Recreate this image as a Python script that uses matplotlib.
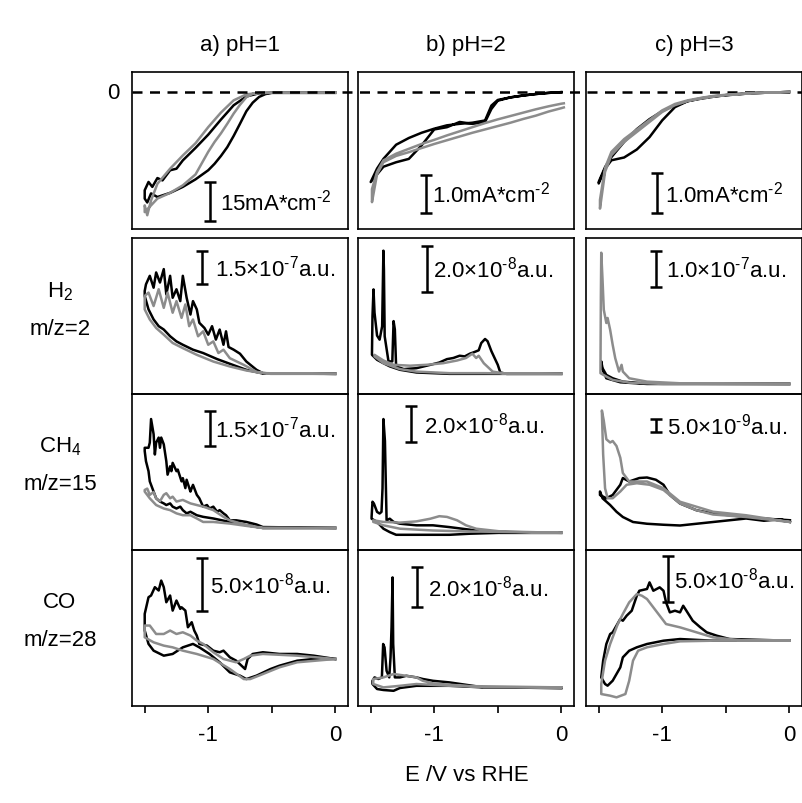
import matplotlib
matplotlib.use('Agg')
import matplotlib.pyplot as plt
import matplotlib.transforms as mtransforms

plt.rcParams['font.family'] = ['Liberation Sans', 'DejaVu Sans']
plt.rcParams['mathtext.fontset'] = 'custom'
plt.rcParams['mathtext.rm'] = 'Liberation Sans'
plt.rcParams['mathtext.it'] = 'Liberation Sans:italic'
plt.rcParams['mathtext.bf'] = 'Liberation Sans:bold'

BLACK = '#000000'
GRAY = '#8c8c8c'

col_titles = ['a) pH=1', 'b) pH=2', 'c) pH=3']
row_species = ['H$_2$', 'CH$_4$', 'CO']
row_mz = ['m/z=2', 'm/z=15', 'm/z=28']
x_label = 'E /V vs RHE'
x_ticks = [-1.5, -1.0, -0.5, 0.0]
x_ticklabels = ['', '-1', '', '0']

# ---------------- Row 1: current density (mA cm^-2) ----------------
cv1_black_x = [0, -0.5, -0.55, -0.6, -0.65, -0.7, -0.75, -0.8, -0.85, -0.9, -0.95, -1.0, -1.1, -1.2, -1.3, -1.4, -1.45, -1.48, -1.5,
               -1.5, -1.47, -1.44, -1.4, -1.36, -1.3, -1.25, -1.2, -1.1, -1.0, -0.9, -0.8, -0.7, -0.6, -0.5, 0]
cv1_black_y = [-0.3, -0.3, -0.8, -1.9, -4.1, -7.4, -12.2, -16.9, -21.2, -24.6, -27.6, -30.1, -33.6, -36.5, -38.8, -40.4, -39.0, -42.5, -41.0,
               -37.8, -34.6, -36.5, -33.1, -34.0, -30.1, -29.5, -26.3, -21.5, -16.4, -10.6, -5.1, -1.7, -0.5, -0.3, -0.3]
cv1_gray_x = [0, -0.5, -0.6, -0.65, -0.7, -0.75, -0.8, -0.85, -0.9, -0.95, -1.0, -1.1, -1.2, -1.3, -1.4, -1.45, -1.5,
              -1.5, -1.48, -1.45, -1.4, -1.3, -1.2, -1.1, -1.0, -0.9, -0.8, -0.7, -0.6, 0]
cv1_gray_y = [-0.3, -0.3, -0.4, -0.7, -2.0, -4.9, -8.3, -12.2, -15.9, -19.2, -23.0, -31.7, -35.9, -38.8, -41.0, -43.6, -46.2,
              -43.6, -47.4, -41.7, -35.3, -29.5, -24.4, -19.7, -13.5, -7.9, -3.2, -0.9, -0.3, -0.3]

cv2_black_x = [0, -0.1, -0.2, -0.3, -0.4, -0.5, -0.55, -0.6, -0.7, -0.8, -0.9, -1.0, -1.1, -1.2, -1.3, -1.4, -1.45, -1.5,
               -1.5, -1.4, -1.3, -1.2, -1.1, -1.0, -0.9, -0.8, -0.7, -0.6, -0.55, -0.5, -0.4, -0.3, -0.2, -0.1, 0]
cv2_black_y = [0, -0.02, -0.05, -0.09, -0.14, -0.21, -0.36, -0.76, -0.82, -0.85, -0.89, -0.98, -1.09, -1.23, -1.41, -1.79, -2.05, -2.41,
               -2.41, -2.0, -1.88, -1.79, -1.43, -1.0, -0.94, -0.80, -0.85, -0.80, -0.45, -0.23, -0.14, -0.09, -0.05, -0.02, 0]
cv2_gray_x = [0.02, 0, -0.1, -0.2, -0.3, -0.4, -0.5, -0.6, -0.7, -0.8, -0.9, -1.0, -1.1, -1.2, -1.3, -1.4, -1.45, -1.49,
              -1.49, -1.45, -1.4, -1.3, -1.2, -1.1, -1.0, -0.9, -0.8, -0.7, -0.6, -0.5, -0.4, -0.3, -0.2, -0.1, 0, 0.02]
cv2_gray_y = [-0.41, -0.43, -0.52, -0.63, -0.72, -0.82, -0.91, -1.0, -1.09, -1.19, -1.29, -1.39, -1.5, -1.61, -1.71, -1.88, -2.2, -2.95,
              -2.6, -2.14, -1.83, -1.65, -1.52, -1.39, -1.28, -1.16, -1.05, -0.94, -0.83, -0.73, -0.64, -0.55, -0.46, -0.38, -0.31, -0.3]

cv3_black_x = [0, -0.1, -0.2, -0.3, -0.4, -0.5, -0.6, -0.7, -0.8, -0.9, -1.0, -1.1, -1.2, -1.3, -1.4, -1.45, -1.5,
               -1.5, -1.45, -1.4, -1.3, -1.2, -1.1, -1.0, -0.9, -0.8, -0.7, -0.6, -0.5, -0.4, -0.3, -0.2, -0.1, 0]
cv3_black_y = [0, -0.01, -0.02, -0.03, -0.06, -0.08, -0.12, -0.17, -0.23, -0.38, -0.71, -1.13, -1.44, -1.64, -1.71, -1.92, -2.29,
               -2.25, -1.88, -1.63, -1.25, -0.93, -0.68, -0.48, -0.33, -0.23, -0.16, -0.11, -0.08, -0.05, -0.03, -0.02, -0.01, 0]
cv3_gray_x = [0, -0.1, -0.2, -0.3, -0.4, -0.5, -0.6, -0.7, -0.8, -0.9, -1.0, -1.1, -1.2, -1.3, -1.4, -1.45, -1.49,
              -1.49, -1.45, -1.4, -1.3, -1.2, -1.1, -1.0, -0.9, -0.8, -0.7, -0.6, -0.5, -0.4, -0.3, -0.2, -0.1, 0]
cv3_gray_y = [0, -0.01, -0.02, -0.03, -0.06, -0.08, -0.12, -0.17, -0.23, -0.33, -0.5, -0.75, -1.0, -1.25, -1.58, -2.0, -2.92,
              -2.7, -1.9, -1.5, -1.18, -0.94, -0.7, -0.46, -0.3, -0.21, -0.15, -0.1, -0.07, -0.05, -0.03, -0.02, -0.01, 0]

# ---------------- Row 2: H2, m/z=2 (units of 1e-8 a.u.) ----------------
h2_1_black_x = [0, -0.57, -0.62, -0.70, -0.75, -0.80, -0.84, -0.86, -0.88, -0.91, -0.94, -0.97, -1.0, -1.03, -1.07, -1.09, -1.12, -1.14,
                -1.17, -1.20, -1.22, -1.25, -1.28, -1.30, -1.33, -1.35, -1.38, -1.41, -1.43, -1.46, -1.49, -1.5,
                -1.5, -1.47, -1.43, -1.39, -1.35, -1.30, -1.25, -1.20, -1.12, -1.04, -0.93, -0.83, -0.70, -0.57, 0]
h2_1_black_y = [0, 0.3, 1.8, 5.5, 9.0, 10.8, 12.0, 19.0, 13.0, 19.8, 15.3, 21.3, 17.5, 20.5, 22.8, 28.8, 32.5, 26.5,
                34.0, 43.8, 32.5, 37.8, 34.0, 43.8, 35.5, 46.8, 40.8, 45.3, 38.5, 43.8, 40.0, 37.0,
                34.8, 28.8, 24.3, 21.3, 19.8, 16.8, 14.5, 13.0, 10.8, 9.3, 6.6, 4.5, 1.8, 0.15, 0]
h2_1_gray_x = [0, -0.51, -0.62, -0.72, -0.83, -0.88, -0.92, -0.96, -1.0, -1.04, -1.08, -1.12, -1.15, -1.18, -1.21, -1.25, -1.28, -1.32,
               -1.35, -1.39, -1.43, -1.47, -1.5, -1.5, -1.46, -1.41, -1.35, -1.28, -1.2, -1.09, -0.96, -0.83, -0.7, -0.57, 0]
h2_1_gray_y = [0, 0, 0.9, 4.0, 7.0, 10.8, 9.3, 14.5, 13.0, 19.0, 16.8, 24.3, 21.3, 31.0, 25.0, 32.5, 27.3, 36.3,
               29.5, 37.8, 30.3, 36.3, 34.8, 28.8, 24.3, 20.5, 17.5, 13.8, 11.5, 8.5, 5.5, 3.3, 1.5, 0.3, 0]

h2_2_black_x = [0, -0.43, -0.48, -0.50, -0.55, -0.58, -0.60, -0.63, -0.65, -0.69, -0.72, -0.76, -0.80, -0.85, -0.90, -0.96, -1.03, -1.14,
                -1.24, -1.30, -1.31, -1.32, -1.33, -1.36, -1.39, -1.396, -1.40, -1.41, -1.43, -1.45, -1.47, -1.478, -1.486, -1.49,
                -1.49, -1.45, -1.40, -1.35, -1.27, -1.14, -0.88, -0.61, 0]
h2_2_black_y = [0, 0, 0.06, 0.4, 1.0, 1.44, 1.54, 1.36, 1.04, 0.95, 0.89, 0.77, 0.80, 0.70, 0.65, 0.50, 0.40, 0.25,
                0.21, 0.33, 1.96, 2.33, 0.55, 0.55, 1.66, 4.62, 5.44, 2.1, 1.51, 1.69, 2.7, 3.73, 2.55, 0.92,
                0.84, 0.62, 0.47, 0.33, 0.18, 0.06, 0, 0, 0]
h2_2_gray_x = [0, -0.43, -0.54, -0.61, -0.65, -0.67, -0.70, -0.75, -0.82, -0.93, -1.06, -1.19, -1.32, -1.40, -1.47,
               -1.47, -1.40, -1.27, -1.14, -0.88, -0.61, 0]
h2_2_gray_y = [0, 0, 0.1, 0.47, 0.8, 0.7, 0.89, 0.7, 0.59, 0.47, 0.4, 0.36, 0.4, 0.59, 0.84,
               0.77, 0.47, 0.21, 0.1, 0.03, 0.03, 0]

h2_3_black_x = [0, -1.12, -1.31, -1.39, -1.44, -1.47, -1.48, -1.48, -1.44, -1.33, -1.12, 0]
h2_3_black_y = [0, 0.09, 0.65, 1.59, 2.52, 4.4, 6.3, 4.9, 1.59, 0.47, 0, 0]
h2_3_gray_x = [0, -0.86, -1.12, -1.26, -1.31, -1.32, -1.34, -1.37, -1.39, -1.41, -1.43, -1.44, -1.46, -1.47, -1.48, -1.483, -1.486,
               -1.486, -1.44, -1.39, -1.26, -0.99, 0]
h2_3_gray_y = [0, 0.19, 0.65, 1.59, 3.46, 5.33, 3.46, 7.2, 10.9, 15.1, 18.4, 17.0, 20.7, 29.2, 36.6, 24.5, 3.9,
               3.0, 2.06, 1.12, 0.37, 0, 0]

# ---------------- Row 3: CH4, m/z=15 (units of 1e-8 a.u.) ----------------
ch4_1_black_x = [0, -0.57, -0.62, -0.70, -0.78, -0.83, -0.86, -0.88, -0.91, -0.93, -0.96, -0.99, -1.01, -1.04, -1.07, -1.09, -1.12, -1.13,
                 -1.14, -1.17, -1.18, -1.20, -1.21, -1.24, -1.25, -1.28, -1.29, -1.30, -1.32, -1.33, -1.35, -1.37, -1.38, -1.39, -1.41,
                 -1.42, -1.43, -1.45, -1.46, -1.47, -1.5,
                 -1.5, -1.49, -1.47, -1.46, -1.43, -1.41, -1.38, -1.35, -1.33, -1.30, -1.28, -1.25, -1.22, -1.20, -1.17, -1.14, -1.09,
                 -1.04, -0.96, -0.83, -0.70, -0.57, 0]
ch4_1_black_y = [0, 0.4, 1.5, 2.6, 3.3, 3.3, 5.5, 6.3, 7.7, 7.0, 9.2, 8.4, 9.9, 9.2, 12.8, 14.3, 18.6, 17.2,
                 15.7, 20.8, 17.2, 21.5, 20.1, 25.2, 24.5, 28.1, 24.5, 26.6, 23.0, 28.8, 36.1, 39.0, 34.6, 39.0, 36.8,
                 31.7, 40.5, 47.0, 36.8, 34.6, 34.6,
                 33.2, 28.8, 24.5, 20.1, 15.7, 12.8, 11.4, 10.6, 9.9, 10.6, 9.2, 8.4, 9.2, 7.7, 6.3, 7.0, 5.5,
                 4.8, 4.1, 2.6, 1.2, 0, 0]
ch4_1_gray_x = [0, -0.57, -0.70, -0.83, -0.88, -0.96, -1.04, -1.09, -1.14, -1.20, -1.25, -1.28, -1.30, -1.33, -1.35, -1.38, -1.41, -1.43,
                -1.46, -1.48, -1.5,
                -1.5, -1.46, -1.41, -1.35, -1.30, -1.25, -1.20, -1.14, -1.09, -1.04, -0.96, -0.83, -0.70, -0.57, 0]
ch4_1_gray_y = [0, 0, 1.2, 3.3, 4.8, 7.7, 9.2, 9.9, 10.6, 12.1, 11.4, 13.5, 12.8, 15.0, 14.3, 11.5, 12.8, 15.5,
                14.3, 17.0, 16.4,
                15.7, 12.8, 9.9, 8.4, 7.7, 6.3, 5.5, 5.5, 4.1, 2.6, 2.6, 1.9, 0.9, 0, 0]

ch4_2_black_x = [0, -0.48, -0.67, -0.88, -1.01, -1.14, -1.27, -1.32, -1.35, -1.375, -1.388, -1.40, -1.407, -1.415, -1.43, -1.45,
                 -1.475, -1.486, -1.493, -1.493, -1.45, -1.40, -1.35, -1.30, -1.14, -0.88, -0.72, -0.48, 0]
ch4_2_black_y = [-0.04, -0.04, 0.09, 0.28, 0.38, 0.38, 0.47, 0.57, 0.75, 0.66, 5.09, 6.32, 2.45, 1.13, 1.04, 1.13,
                 1.6, 1.7, 0.85, 0.75, 0.57, 0.19, 0, -0.15, -0.15, -0.15, -0.09, -0.04, -0.04]
ch4_2_gray_x = [0, -0.48, -0.67, -0.75, -0.82, -0.90, -0.96, -1.03, -1.14, -1.27, -1.40, -1.48,
                -1.48, -1.40, -1.27, -1.01, -0.75, 0]
ch4_2_gray_y = [-0.04, 0.04, 0.19, 0.38, 0.66, 0.85, 0.89, 0.75, 0.6, 0.53, 0.57, 0.66,
                0.57, 0.38, 0.19, 0.09, 0.04, -0.04]

ch4_3_black_x = [0.005, -0.07, -0.2, -0.34, -0.47, -0.6, -0.73, -0.86, -0.99, -1.12, -1.23, -1.31, -1.36, -1.41, -1.47, -1.49,
                 -1.49, -1.44, -1.39, -1.33, -1.31, -1.26, -1.18, -1.12, -1.05, -0.99, -0.94, -0.86, -0.73, -0.6, -0.47, -0.34,
                 -0.2, 0.005]
ch4_3_black_y = [0, 0.11, 0.05, 0.14, 0.07, 0, -0.07, -0.14, -0.11, -0.07, 0, 0.2, 0.41, 0.68, 0.95, 1.22,
                 1.08, 0.95, 1.08, 1.49, 1.76, 1.62, 1.76, 1.78, 1.69, 1.49, 1.08, 0.74, 0.47, 0.34, 0.27, 0.2,
                 0.14, 0.07]
ch4_3_gray_x = [0.005, -0.34, -0.6, -0.86, -0.99, -1.12, -1.26, -1.31, -1.33, -1.36, -1.39, -1.41, -1.44, -1.46, -1.475,
                -1.475, -1.465, -1.45, -1.43, -1.39, -1.33, -1.28, -1.2, -1.1, -0.99, -0.86, -0.73, -0.6, -0.34, 0.005]
ch4_3_gray_y = [0, 0.27, 0.41, 0.81, 1.35, 1.62, 1.62, 1.96, 2.57, 3.04, 3.24, 3.18, 3.31, 4.05, 4.46,
                4.39, 2.7, 1.35, 0.95, 0.95, 1.22, 1.49, 1.55, 1.49, 1.28, 0.74, 0.47, 0.3, 0.2, 0]

# ---------------- Row 4: CO, m/z=28 (units of 1e-8 a.u.) ----------------
co_1_black_x = [0, -0.17, -0.30, -0.44, -0.57, -0.65, -0.69, -0.71, -0.78, -0.83, -0.88, -0.91, -0.96, -1.01, -1.07, -1.09, -1.11,
                -1.13, -1.16, -1.18, -1.21, -1.22, -1.25, -1.28, -1.30, -1.33, -1.35, -1.37, -1.39, -1.42, -1.45, -1.47, -1.5,
                -1.5, -1.47, -1.43, -1.35, -1.28, -1.20, -1.12, -1.07, -0.99, -0.91, -0.83, -0.75, -0.70, -0.62, -0.51, -0.44,
                -0.30, -0.17, 0]
co_1_black_y = [0, 0.31, 0.47, 0.47, 0.63, 0.47, 0, -0.94, -0.16, 0.16, 0.78, 0.63, 0.78, 1.25, 1.41, 2.19, 2.66,
                3.44, 2.97, 4.53, 4.84, 4.69, 5.47, 4.53, 5.94, 5.31, 6.72, 7.34, 6.41, 6.72, 5.94, 5.78, 4.22,
                2.66, 1.41, 0.78, 0.31, 0.47, 1.09, 1.41, 1.09, 0.47, -0.31, -1.25, -1.56, -1.88, -1.56, -0.94, -0.63,
                -0.16, 0, 0]
co_1_gray_x = [0, -0.30, -0.57, -0.67, -0.72, -0.78, -0.88, -0.96, -1.04, -1.09, -1.14, -1.20, -1.25, -1.30, -1.35, -1.41, -1.46, -1.5,
               -1.5, -1.43, -1.35, -1.28, -1.20, -1.09, -0.96, -0.83, -0.72, -0.67, -0.57, -0.44, -0.30, 0]
co_1_gray_y = [0, 0.31, 0.47, 0.31, 0, -0.31, 0, 0.63, 1.41, 1.72, 2.19, 2.5, 2.34, 2.66, 2.34, 2.34, 3.13, 3.13,
               2.03, 1.56, 1.25, 1.09, 0.78, 0.47, 0, -0.94, -1.88, -1.88, -1.41, -0.78, -0.31, 0]

co_2_black_x = [0, -0.61, -0.88, -1.01, -1.09, -1.14, -1.22, -1.27, -1.31, -1.323, -1.328, -1.336, -1.344, -1.354, -1.375, -1.391,
                -1.402, -1.412, -1.44, -1.47, -1.486, -1.486, -1.45, -1.40, -1.32, -1.27, -1.14, -0.88, -0.61, 0]
co_2_black_y = [-0.03, 0, 0.25, 0.33, 0.42, 0.5, 0.58, 0.5, 0.5, 2.17, 5.5, 3.0, 1.5, 0.5, 0.83, 2.0,
                2.17, 0.5, 0.42, 0.5, 0.33, 0.17, -0.08, -0.13, -0.17, -0.03, 0.08, 0.08, 0, -0.03]
co_2_gray_x = [0, -0.61, -1.01, -1.09, -1.14, -1.22, -1.32, -1.40, -1.48, -1.48, -1.40, -1.27, -1.14, -0.88, 0]
co_2_gray_y = [0, 0, 0.2, 0.33, 0.5, 0.58, 0.67, 0.5, 0.42, 0.17, 0, 0.08, 0.17, 0.08, 0]

co_3_black_x = [0, -0.6, -0.86, -0.99, -1.12, -1.2, -1.26, -1.31, -1.33, -1.39, -1.43, -1.45, -1.48,
                -1.465, -1.44, -1.41, -1.39, -1.33, -1.31, -1.28, -1.24, -1.2, -1.18, -1.12, -1.1, -1.07, -1.02, -0.99, -0.97,
                -0.94, -0.9, -0.86, -0.835, -0.81, -0.76, -0.7, -0.65, -0.57, -0.47, 0]
co_3_black_y = [0, 0, 0.18, 0, -0.36, -0.72, -1.09, -1.81, -2.9, -4.35, -4.89, -4.71, -3.99,
                -2.17, -0.36, 0.72, 0.91, 2.36, 2.17, 2.72, 3.26, 4.89, 5.43, 5.62, 6.34, 5.43, 5.8, 5.43, 4.17,
                3.08, 3.26, 3.08, 3.8, 3.26, 2.17, 1.45, 0.91, 0.54, 0.18, 0]
co_3_gray_x = [0, -0.6, -0.86, -0.99, -1.12, -1.19, -1.23, -1.26, -1.29, -1.36, -1.41, -1.48,
               -1.48, -1.45, -1.41, -1.37, -1.35, -1.31, -1.26, -1.2, -1.16, -1.12, -1.05, -0.97, -0.86, -0.73, -0.6, -0.34, 0]
co_3_gray_y = [0, 0, -0.07, -0.36, -0.72, -1.09, -2.17, -4.35, -5.8, -6.16, -5.98, -5.8,
               -4.71, -2.17, -0.36, 1.09, 1.81, 2.9, 4.17, 5.07, 4.89, 4.53, 3.26, 1.81, 1.45, 0.91, 0.36, 0, 0]

# panel table: (curves, ylim, scale bar value, scale bar label)
panels = [
    [([(cv1_black_x, cv1_black_y, BLACK), (cv1_gray_x, cv1_gray_y, GRAY)], (-52.7, 7.7), 15, r'15mA*cm$^{\text{-}2}$'),
     ([(cv2_black_x, cv2_black_y, BLACK), (cv2_gray_x, cv2_gray_y, GRAY)], (-3.67, 0.54), 1.0, r'1.0mA*cm$^{\text{-}2}$'),
     ([(cv3_black_x, cv3_black_y, BLACK), (cv3_gray_x, cv3_gray_y, GRAY)], (-3.43, 0.5), 1.0, r'1.0mA*cm$^{\text{-}2}$')],
    [([(h2_1_black_x, h2_1_black_y, BLACK), (h2_1_gray_x, h2_1_gray_y, GRAY)], (-9.0, 60.7), 15, r'1.5×10$^{\text{-}7}$a.u.'),
     ([(h2_2_black_x, h2_2_black_y, BLACK), (h2_2_gray_x, h2_2_gray_y, GRAY)], (-0.89, 6.0), 2.0, r'2.0×10$^{\text{-}8}$a.u.'),
     ([(h2_3_black_x, h2_3_black_y, BLACK), (h2_3_gray_x, h2_3_gray_y, GRAY)], (-2.8, 40.7), 10, r'1.0×10$^{\text{-}7}$a.u.')],
    [([(ch4_1_black_x, ch4_1_black_y, BLACK), (ch4_1_gray_x, ch4_1_gray_y, GRAY)], (-9.5, 57.8), 15, r'1.5×10$^{\text{-}7}$a.u.'),
     ([(ch4_2_black_x, ch4_2_black_y, BLACK), (ch4_2_gray_x, ch4_2_gray_y, GRAY)], (-1.0, 7.72), 2.0, r'2.0×10$^{\text{-}8}$a.u.'),
     ([(ch4_3_black_x, ch4_3_black_y, BLACK), (ch4_3_gray_x, ch4_3_gray_y, GRAY)], (-1.12, 5.12), 0.5, r'5.0×10$^{\text{-}9}$a.u.')],
    [([(co_1_black_x, co_1_black_y, BLACK), (co_1_gray_x, co_1_gray_y, GRAY)], (-4.4, 10.2), 5.0, r'5.0×10$^{\text{-}8}$a.u.'),
     ([(co_2_black_x, co_2_black_y, BLACK), (co_2_gray_x, co_2_gray_y, GRAY)], (-0.93, 6.87), 2.0, r'2.0×10$^{\text{-}8}$a.u.'),
     ([(co_3_black_x, co_3_black_y, BLACK), (co_3_gray_x, co_3_gray_y, GRAY)], (-7.1, 9.86), 5.0, r'5.0×10$^{\text{-}8}$a.u.')],
]
# scale bar placement: (x of bar, bottom of bar, x of text)
bar_pos = [
    [(-0.987, -49.6, -0.91), (-1.065, -3.23, -1.02), (-1.039, -3.04, -0.98)],
    [(-1.052, 40.0, -0.95), (-1.06, 3.63, -1.01), (-1.05, 27.1, -0.97)],
    [(-0.987, 35.4, -0.95), (-1.184, 5.04, -1.08), (-1.05, 3.62, -0.96)],
    [(-1.052, 4.47, -0.99), (-1.134, 4.0, -1.05), (-0.953, 4.17, -0.91)],
]

W, H = 803, 804
fig = plt.figure(figsize=(W / 100, H / 100), dpi=100)
col_left = [132, 358, 586]
col_w = 216
row_tb = [(73, 230), (239, 395), (395, 551), (551, 707)]
FS = 16

axes = []
for r, (t, b) in enumerate(row_tb):
    row_axes = []
    for c in range(3):
        ax = fig.add_axes([col_left[c] / W, 1 - b / H, col_w / W, (b - t) / H])
        ax.set_facecolor('none')
        curves, ylim, sb, sblabel = panels[r][c]
        for xs, ys, col in curves:
            ax.plot(xs, ys, color=col, lw=1.8, solid_joinstyle='round')
        ax.set_xlim(-1.6, 0.1)
        ax.set_ylim(*ylim)
        bx, by, tx = bar_pos[r][c]
        ax.errorbar([bx], [by + sb / 2], yerr=[sb / 2], fmt='none', ecolor='k',
                    elinewidth=1.8, capsize=4, capthick=1.8)
        ax.text(tx, by + sb / 2, sblabel, fontsize=FS, ha='left', va='center')
        ax.set_yticks([])
        for sp in ax.spines.values():
            sp.set_linewidth(1.2)
        if r == 3:
            ax.set_xticks(x_ticks)
            ax.set_xticklabels(x_ticklabels, fontsize=FS)
            ax.tick_params(axis='x', direction='out', length=5, width=1.2, pad=8)
        else:
            ax.set_xticks([])
        row_axes.append(ax)
    axes.append(row_axes)

# zero line across the top row
ax0 = axes[0][0]
trans = mtransforms.blended_transform_factory(ax0.transAxes, ax0.transData)
ax0.plot([0, (802 - 132) / col_w], [0, 0], transform=trans, color='k', lw=1.8,
         ls=(0, (4, 3)), clip_on=False, zorder=5)
ax0.text((113 - 132) / col_w, 0, '0', transform=trans, fontsize=FS, ha='center', va='center')

for c in range(3):
    fig.text((col_left[c] + col_w / 2) / W, 1 - 46 / H, col_titles[c], fontsize=FS, ha='center', va='center')

row_label_y = [(292, 330), (447, 485), (603, 641)]
for i in range(3):
    fig.text(60 / W, 1 - row_label_y[i][0] / H, row_species[i], fontsize=FS, ha='center', va='center')
    fig.text(60 / W, 1 - row_label_y[i][1] / H, row_mz[i], fontsize=FS, ha='center', va='center')

fig.text(467 / W, 1 - 776 / H, x_label, fontsize=FS, ha='center', va='center')

fig.savefig('out.png', dpi=100, facecolor='white')
